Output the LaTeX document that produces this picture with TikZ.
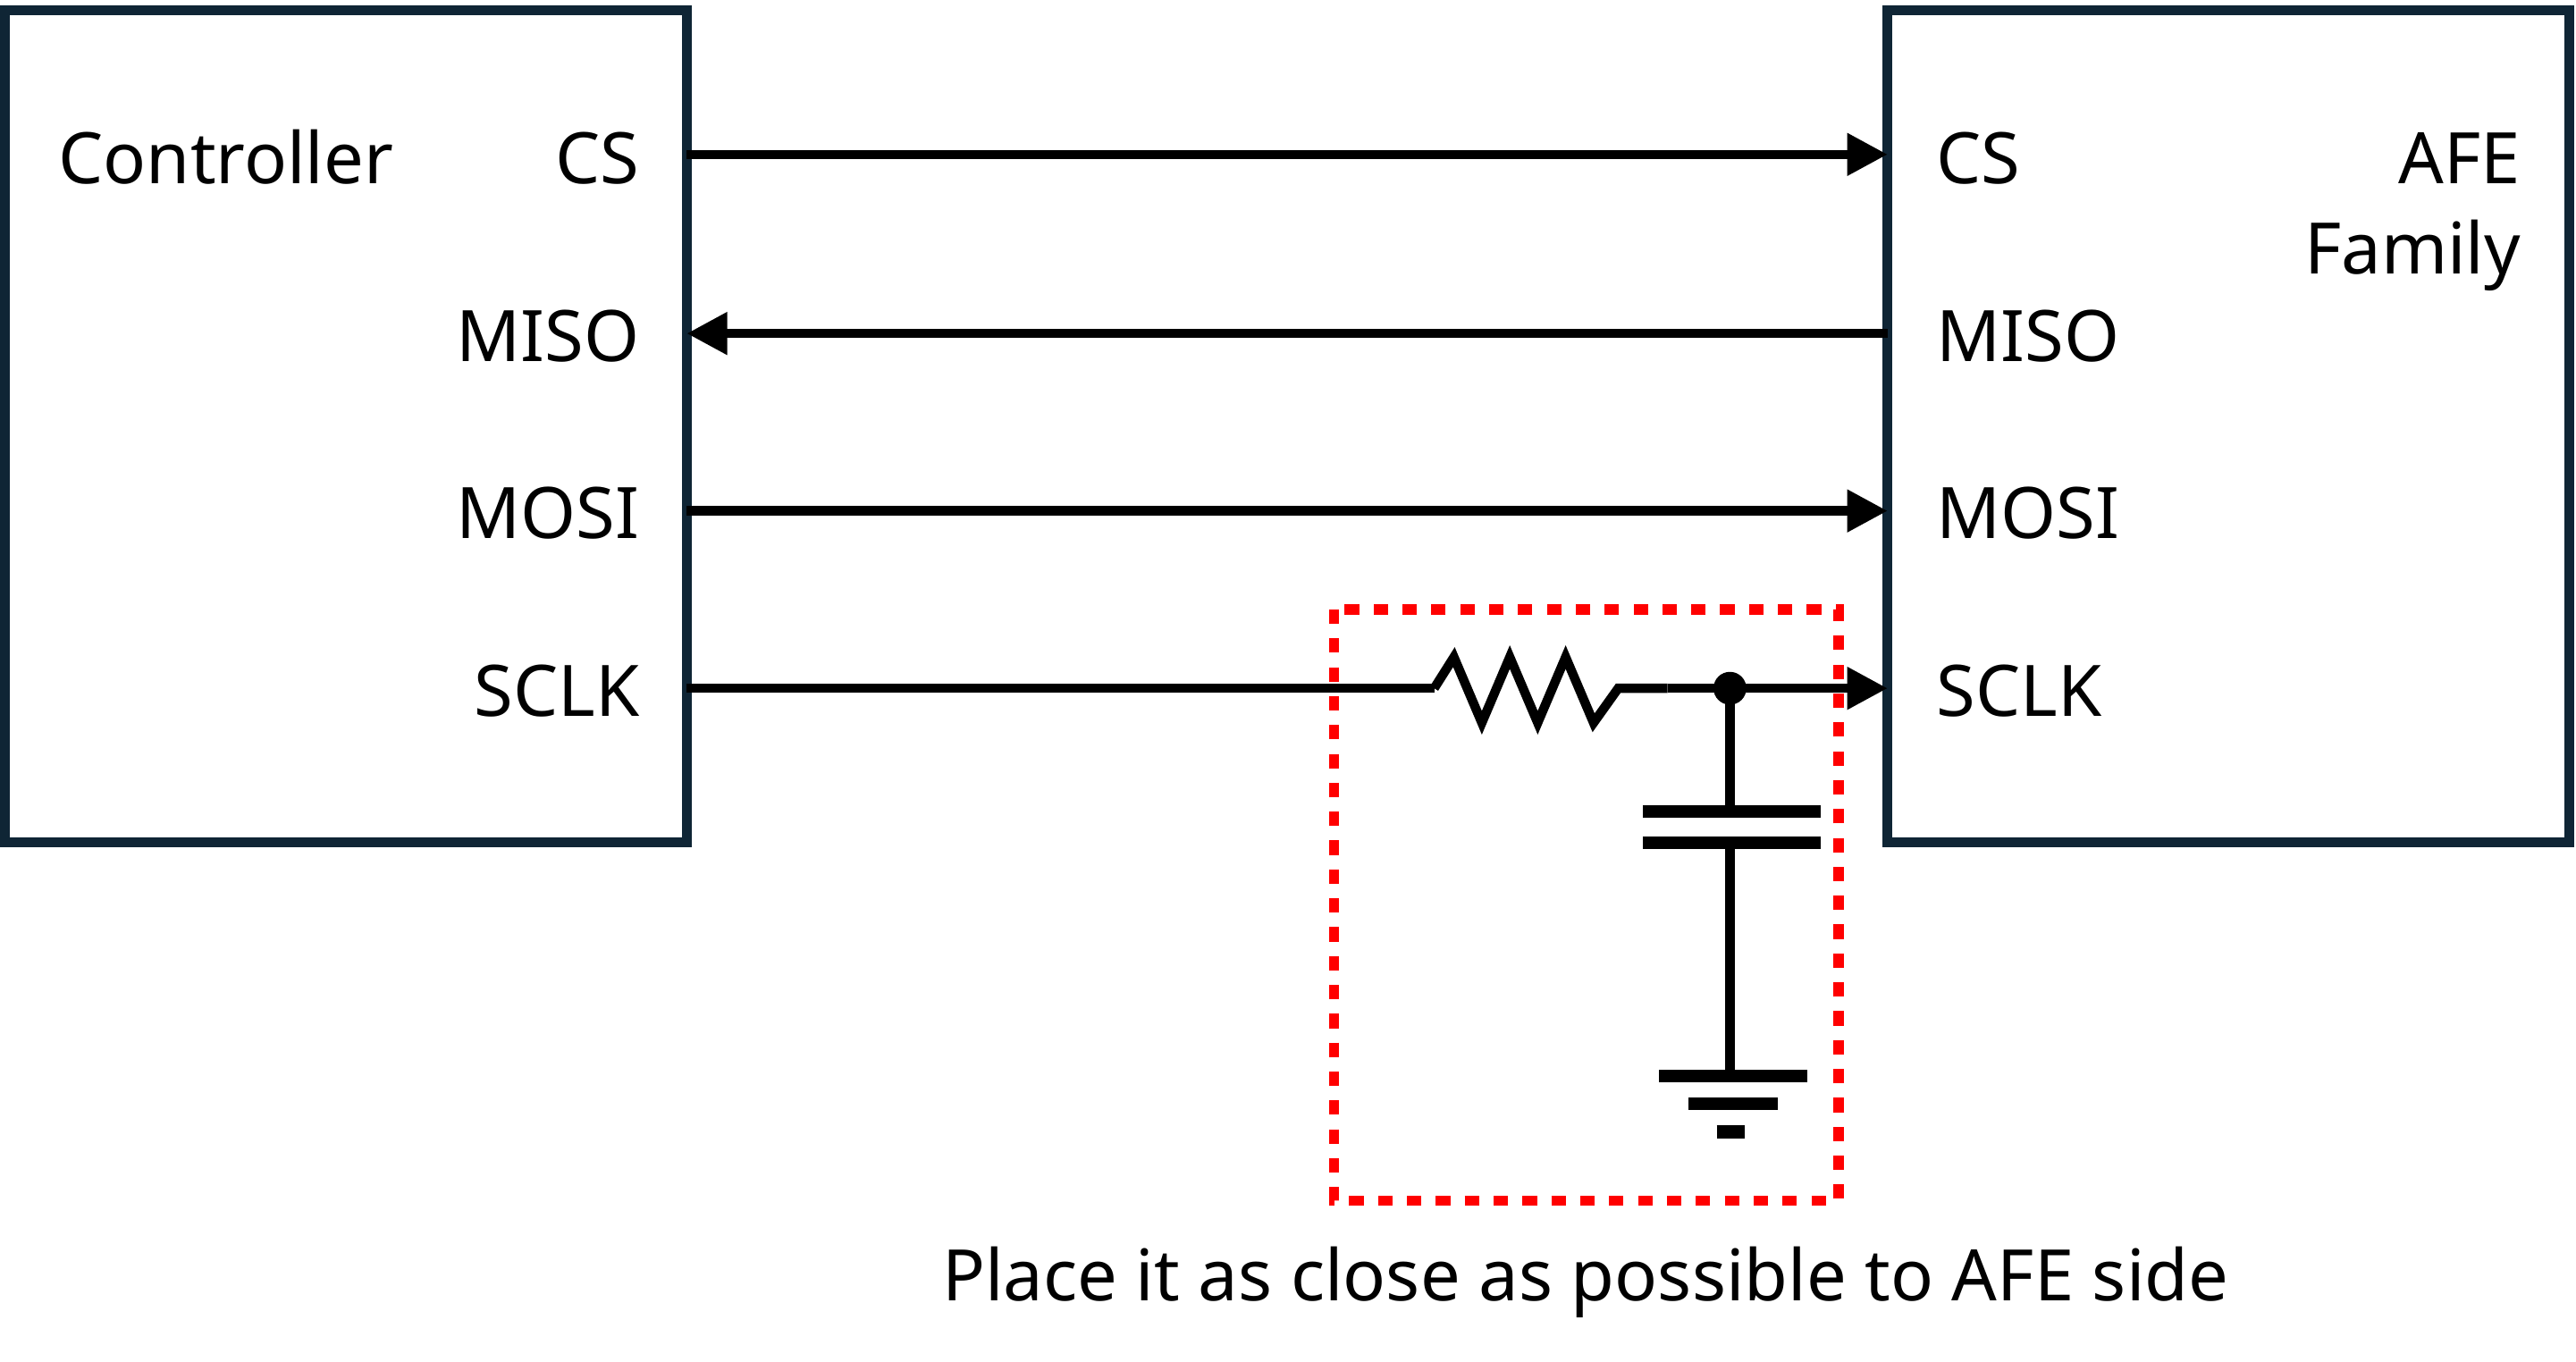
\documentclass[tikz,border=0pt]{standalone}
\usepackage{fontspec}
\setmainfont{Noto Sans}
\usetikzlibrary{arrows.meta,decorations.pathmorphing}
\definecolor{navy}{HTML}{0F2535}
\begin{document}
\begin{tikzpicture}[x=0.01cm,y=-0.01cm,
  box/.style={draw=navy,line width=1.7pt},
  wire/.style={line width=1.6pt,black},
  arr/.style={wire,-{Triangle[length=7pt,width=7pt]}},
  lbl/.style={font=\fontsize{12.3}{15}\selectfont,inner sep=0pt}]
\useasboundingbox (0,0) rectangle (1568,829);
\draw[box] (3,6) rectangle (418,513);
\draw[box] (1149,6) rectangle (1564,513);
\coordinate (lcs) at (418,94); \coordinate (rcs) at (1149,94);
\coordinate (lmi) at (418,203); \coordinate (rmi) at (1149,203);
\coordinate (lmo) at (418,311); \coordinate (rmo) at (1149,311);
\coordinate (lsc) at (418,419); \coordinate (rsc) at (1149,419);
\coordinate (r1) at (845,419); \coordinate (r2) at (1015,419);
\coordinate (j) at (1053,419);
\draw[arr] (lcs) -- (rcs);
\draw[arr] (rmi) -- (lmi);
\draw[arr] (lmo) -- (rmo);
\draw[wire] (lsc) -- (r1) -- (873,419);
\draw[wire,line join=miter] (873,419) -- (885,400) -- (902,440) -- (919,400) -- (936,440) -- (953,400) -- (970,440) -- (985,419) -- (r2);
\draw[arr] (r2) -- (rsc);
\fill (j) circle (10);
\draw[wire] (j) -- (1053,494);
\draw[wire,line width=2.2pt] (1000,494) -- (1108,494) (1000,513) -- (1108,513);
\draw[wire] (1053,513) -- (1053,655);
\draw[wire,line width=2.2pt] (1010,655) -- (1100,655) (1028,672) -- (1082,672) (1045,689) -- (1062,689);
\draw[red,line width=1.8pt,dash pattern=on 2.5pt off 2.5pt] (812,371) rectangle (1119,731);
\node[lbl,anchor=base west] at (35,112) {Controller};
\node[lbl,anchor=base east] at (390,112) {CS};
\node[lbl,anchor=base east] at (390,220) {MISO};
\node[lbl,anchor=base east] at (390,328) {MOSI};
\node[lbl,anchor=base east] at (390,436) {SCLK};
\node[lbl,anchor=base west] at (1178,112) {CS};
\node[lbl,anchor=base west] at (1178,220) {MISO};
\node[lbl,anchor=base west] at (1178,328) {MOSI};
\node[lbl,anchor=base west] at (1178,436) {SCLK};
\node[lbl,anchor=base east] at (1535,112) {AFE};
\node[lbl,anchor=base east] at (1535,167) {Family};
\node[lbl,anchor=base] at (965,792) {Place it as close as possible to AFE side};
\end{tikzpicture}
\end{document}
